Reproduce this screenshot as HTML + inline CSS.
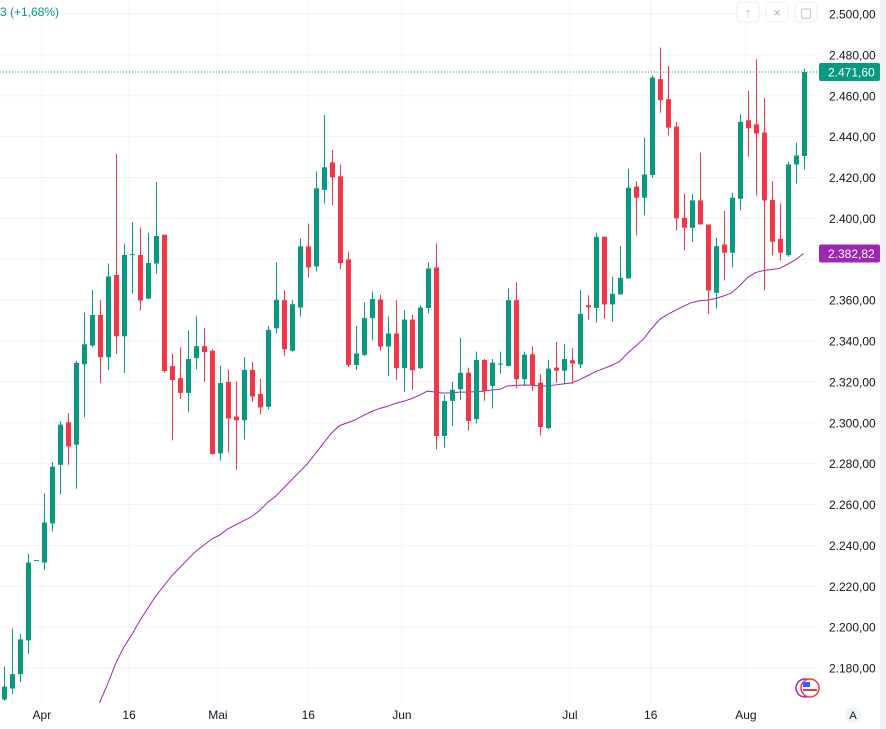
<!DOCTYPE html>
<html><head><meta charset="utf-8"><style>
body{margin:0;background:#fff;font-family:"Liberation Sans",sans-serif;}
#wrap{position:relative;width:886px;height:729px;overflow:hidden;}
svg text{font-family:"Liberation Sans",sans-serif;}
</style></head><body><div id="wrap">
<svg id="c" width="886" height="729"></svg>
</div>
<script>
const opens=[2164.6,2170,2177,2193.5,2232.8,2231.6,2250.7,2279.4,2300.2,2289.3,2328.6,2337.8,2352.7,2332.1,2372.3,2342.3,2382.5,2382.1,2360.7,2377.9,2392,2327.7,2321.8,2314.6,2331.6,2337.5,2335.2,2285,2320,2303,2301.2,2325.9,2314.1,2307.8,2346.2,2360,2335.2,2356.4,2386.3,2376.5,2413.9,2427.4,2420.6,2379.9,2328.3,2333.2,2351.2,2360.3,2337.3,2343.7,2326.7,2350.5,2326.7,2356.1,2376,2293.5,2310.7,2316.4,2324.5,2301.8,2330.7,2318,2328.9,2327.8,2360,2321.3,2333.5,2319.6,2297.4,2327,2325.5,2330.6,2328.5,2357.5,2356.2,2391,2357.9,2362.8,2370.6,2415.5,2410.1,2421.2,2468.1,2458.3,2444.9,2400.3,2395.4,2408.8,2397,2363.6,2387.2,2383.2,2409.6,2448,2446,2442,2409,2390,2382,2426.4,2430.5];
const closes=[2170.9,2177,2194,2231.6,2232.8,2251.2,2278.5,2299.1,2288.4,2329.3,2338.4,2352.7,2332.1,2371.6,2342.3,2382.1,2382.5,2359.8,2378.2,2391.4,2325.3,2320.9,2314.6,2331.2,2337.5,2334.6,2284.6,2319.4,2302.1,2301.2,2325.9,2312.8,2307.5,2345.5,2360.2,2336,2358,2386.3,2376,2414.7,2425,2420.1,2378.1,2328.3,2333.9,2351.2,2360.5,2337.3,2343.7,2326.7,2350.5,2325.7,2356.4,2375.5,2293.5,2310.7,2316.1,2324.5,2300.9,2330.7,2315.6,2329.4,2328.9,2360,2321.3,2333.3,2318.3,2297.9,2326.5,2325.5,2331.2,2329,2353.3,2356.5,2391,2357.9,2363.1,2370.9,2415,2410.1,2421.5,2468.9,2457.8,2444.4,2400,2395.4,2408.8,2397,2364.7,2386.4,2383.2,2410.1,2447.3,2444.1,2441.5,2408.8,2388.6,2383.2,2426.4,2430.8,2471.6];
const highs=[2180.7,2199.4,2196.7,2236,2232.8,2265.5,2280.7,2300.7,2304.8,2330.3,2353.9,2365,2360,2377.9,2431.6,2387.5,2398.2,2395.4,2392.9,2417.9,2392,2333.9,2337,2345,2352.1,2346.4,2336,2328,2326.2,2320.3,2332.1,2329.8,2321.4,2347.3,2378.4,2364.9,2360,2390.2,2397.5,2423,2450.5,2433.6,2426.3,2383.7,2347.4,2358.8,2364.2,2362.6,2352,2360,2355.1,2352.8,2357.5,2378.4,2387.7,2313.6,2320,2341.7,2327,2334.8,2331.2,2331.2,2334.8,2365.7,2368.8,2334.8,2337.3,2323.7,2330.8,2339.6,2338.6,2336.6,2364.9,2362.4,2393,2391,2371.4,2386.4,2424.3,2418.3,2439.5,2470,2483.6,2474.6,2447.3,2412.2,2412,2432.2,2397,2390.5,2403.6,2412.6,2450.9,2462.4,2477.9,2458.8,2418.3,2407.3,2427.6,2437,2473.3];
const lows=[2164,2167.3,2173,2187,2232.8,2228,2246.8,2265,2279.4,2267.7,2302.7,2337,2319.4,2325.9,2333.7,2324.4,2363.2,2354.8,2360.7,2373,2324.4,2291.4,2311.6,2305.2,2326.2,2320,2284.6,2281.6,2285.5,2277.1,2291.8,2310.2,2304,2306.6,2343.6,2332.7,2334.8,2352,2371.1,2374,2407.3,2406.5,2375.2,2327.3,2325.7,2332.7,2340.4,2335.2,2322.9,2321,2315.1,2316,2326.2,2353.6,2287,2287.8,2298.4,2311,2296,2299.7,2310.7,2307,2324,2327.5,2316.9,2318,2315.6,2293.8,2296.8,2319.5,2319,2319,2326.8,2350.5,2348.9,2350.8,2349.4,2362.8,2370.6,2391.7,2401.5,2419.9,2451.7,2440.6,2394,2384.3,2388.4,2397,2353.3,2355.9,2369.6,2376.1,2403.9,2430.2,2411.2,2364.7,2381.9,2379.4,2381.2,2417.1,2424];
const maStart=12;
const maValues=[2163,2172,2182,2190,2196,2203,2209,2215,2220,2225,2229,2233,2237,2240,2243,2245,2248,2250,2252,2254,2257,2261,2264,2268,2272,2276,2280,2285,2290,2295,2298.6,2300,2301.5,2303.5,2305.5,2307,2308,2309.5,2310.5,2311.8,2313.5,2315.5,2315,2314.5,2314.7,2315,2315,2315.2,2315.5,2316,2316.3,2318,2318.3,2318.5,2318.4,2318,2318,2318.5,2319,2319.5,2321,2323,2325,2326.5,2328,2330,2334,2337.5,2341,2346,2350.5,2353,2355,2357,2358.8,2359.7,2360,2360.8,2362,2363.5,2367,2371,2373.5,2374.5,2375,2375.5,2377.5,2379.7,2382.8];
const yTicks=[2500,2480,2460,2440,2420,2400,2380,2360,2340,2320,2300,2280,2260,2240,2220,2200,2180];
const xLabels=["Apr","16","Mai","16","Jun","Jul","16","Aug"];
const xLabelIdx=[4.8,15.7,26.8,38.1,49.8,70.8,80.9,92.8];
const lastPrice=2471.6, maLast=2382.82;

const NS="http://www.w3.org/2000/svg";
const svg=document.getElementById('c');
const plotR=818;
function y(v){return 14+(2500-v)*2.04375;}
function x(i){return 3.5+8*i;}
function fmt(v){let s=v.toFixed(2).replace('.',',');let p=s.split(',');return p[0].replace(/\B(?=(\d{3})+(?!\d))/g,'.')+','+p[1];}
function mk(t,a,p){const e=document.createElementNS(NS,t);for(const k in a)e.setAttribute(k,a[k]);(p||svg).appendChild(e);return e;}

const grid=mk('g',{});


yTicks.forEach(v=>{mk('line',{x1:0,x2:plotR,y1:y(v),y2:y(v),stroke:'#f0f3fa','stroke-width':1},grid);});
xLabelIdx.forEach(i=>{mk('line',{x1:x(i),x2:x(i),y1:0,y2:704,stroke:'#f0f3fa','stroke-width':1},grid);});

const ma=mk('polyline',{fill:'none',stroke:'#9c27b0','stroke-width':1,points:maValues.map((v,k)=>x(maStart+k)+','+y(v)).join(' ')});



const pl=mk('line',{x1:0,x2:plotR,y1:y(lastPrice),y2:y(lastPrice),stroke:'#089981','stroke-width':1,'stroke-dasharray':'1,2'});



for(let i=0;i<opens.length;i++){
  const up=closes[i]>=opens[i];const col=up?'#089981':'#f23645';
  const g=mk('g',{});
  
  
  const cx=Math.round(x(i))+0.5;
  mk('line',{x1:cx,x2:cx,y1:y(highs[i]),y2:y(lows[i]),stroke:col,'stroke-width':1},g);
  const t=y(Math.max(opens[i],closes[i])),b=y(Math.min(opens[i],closes[i]));
  mk('rect',{x:cx-2.5,y:t,width:5,height:Math.max(1,b-t),fill:col},g);
}

yTicks.forEach(v=>{
if(Math.abs(y(v)-y(maLast))<12||Math.abs(y(v)-y(lastPrice))<12)return;
const t=mk('text',{x:829,y:y(v)+4.5,'font-size':12,fill:'#131722'});t.textContent=fmt(v);

});
xLabels.forEach((s,k)=>{const t=mk('text',{x:x(xLabelIdx[k]),y:719,'font-size':12,fill:'#131722','text-anchor':'middle'});t.textContent=s;

});

function badge(v,col,name){const g=mk('g',{});


mk('rect',{x:819,y:y(v)-9,width:61,height:18,rx:2,fill:col},g);
const t=mk('text',{x:828,y:y(v)+4.5,'font-size':12,fill:'#fff'},g);t.textContent=fmt(v);}
badge(lastPrice,'#089981','last-price-badge');
badge(maLast,'#9c27b0','ma-value-badge');

mk('rect',{x:880,y:0,width:6,height:729,fill:'#eef0f4'});
const hd=mk('text',{x:0,y:16,'font-size':12,fill:'#089981'});hd.textContent='3 (+1,68%)';



const btns=[['↑',748],['×',777],['▢',806]];
btns.forEach(b=>{const g=mk('g',{});


mk('rect',{x:b[1]-11,y:2,width:22,height:20,rx:4,fill:'#fff',stroke:'#eceef2'},g);
const t=mk('text',{x:b[1],y:17,'font-size':13,fill:'#b2b5be','text-anchor':'middle'},g);t.textContent=b[0];});

const fl=mk('g',{});


mk('circle',{cx:805,cy:688,r:9,fill:'none',stroke:'#9c27b0','stroke-width':1.5},fl);
mk('circle',{cx:810,cy:688,r:9,fill:'#fff',stroke:'#f23645','stroke-width':1.5},fl);
mk('rect',{x:803,y:682,width:7,height:5,fill:'#2962ff'},fl);
mk('rect',{x:803,y:689,width:14,height:2,fill:'#f23645'},fl);

const ab=mk('g',{});


mk('circle',{cx:853,cy:715,r:8,fill:'#f0f3fa'},ab);
const at=mk('text',{x:853,y:719,'font-size':11,fill:'#131722','text-anchor':'middle'},ab);at.textContent='A';
</script></body></html>
